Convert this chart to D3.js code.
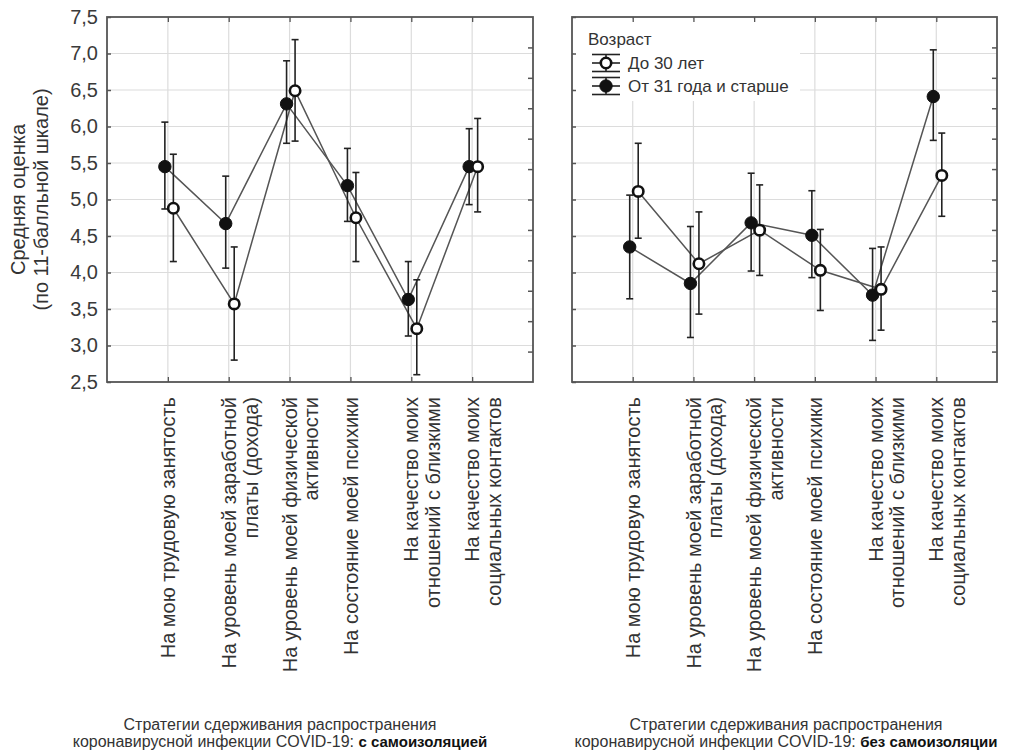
<!DOCTYPE html>
<html>
<head>
<meta charset="utf-8">
<script src="https://cdn.jsdelivr.net/npm/d3@7/dist/d3.min.js"></script>
<style>
  html, body { margin: 0; padding: 0; background: #fff; }
  svg { display: block; font-family: "Liberation Sans", Arial, sans-serif; }
</style>
</head>
<body>
<svg id="chart" width="1009" height="754"></svg>
<script>
// ---------- data ----------
const categories = [
  ["На мою трудовую занятость"],
  ["На уровень моей заработной", "платы (дохода)"],
  ["На уровень моей физической", "активности"],
  ["На состояние моей психики"],
  ["На качество моих", "отношений с близкими"],
  ["На качество моих", "социальных контактов"]
];
const yTicks = [2.5, 3.0, 3.5, 4.0, 4.5, 5.0, 5.5, 6.0, 6.5, 7.0, 7.5];
const seriesNames = ["До 30 лет", "От 31 года и старше"];
const legendTitle = "Возраст";
const yTitle = ["Средняя оценка", "(по 11-балльной шкале)"];

// left panel: с самоизоляцией
const leftYoungMean = [4.88, 3.57, 6.49, 4.75, 3.23, 5.45];
const leftYoungLow  = [4.15, 2.80, 5.80, 4.15, 2.60, 4.83];
const leftYoungHigh = [5.62, 4.35, 7.19, 5.37, 3.90, 6.11];
const leftOldMean   = [5.45, 4.67, 6.31, 5.19, 3.63, 5.45];
const leftOldLow    = [4.87, 4.06, 5.77, 4.70, 3.13, 4.93];
const leftOldHigh   = [6.06, 5.32, 6.90, 5.70, 4.15, 5.97];

// right panel: без самоизоляции
const rightYoungMean = [5.11, 4.12, 4.58, 4.03, 3.77, 5.33];
const rightYoungLow  = [4.47, 3.43, 3.96, 3.48, 3.21, 4.77];
const rightYoungHigh = [5.77, 4.83, 5.20, 4.59, 4.35, 5.91];
const rightOldMean   = [4.35, 3.85, 4.68, 4.51, 3.69, 6.41];
const rightOldLow    = [3.64, 3.11, 4.02, 3.93, 3.07, 5.81];
const rightOldHigh   = [5.06, 4.63, 5.36, 5.12, 4.33, 7.05];

const leftTitle  = ["Стратегии сдерживания распространения", "коронавирусной инфекции COVID-19: ", "с самоизоляцией"];
const rightTitle = ["Стратегии сдерживания распространения", "коронавирусной инфекции COVID-19: ", "без самоизоляции"];

// ---------- drawing ----------
const svg = d3.select("#chart");
const textColor = "#333";
const frameColor = "#555";
const gridColor = "#dcdcdc";
const yTop = 17, yBottom = 382;

function panel(x0, x1, young, old, showYLabels, legend, title, titleCx) {
  const keys = categories.map((c, i) => i);
  const x = d3.scalePoint().domain(keys).range([x0, x1]).padding(1);
  const y = d3.scaleLinear().domain([2.5, 7.5]).range([yBottom, yTop]);
  const y2 = d3.scaleLinear().domain([0, 12]).range([yBottom, yTop]);
  const g = svg.append("g");

  // grid
  g.append("g").selectAll("line").data(yTicks.slice(1, -1)).join("line")
    .attr("x1", x0).attr("x2", x1).attr("y1", d => y(d)).attr("y2", d => y(d))
    .attr("stroke", gridColor).attr("stroke-width", 1.2);
  g.append("g").selectAll("line").data(keys).join("line")
    .attr("x1", d => x(d)).attr("x2", d => x(d)).attr("y1", yTop).attr("y2", yBottom)
    .attr("stroke", gridColor).attr("stroke-width", 1.2);

  // legend background (covers grid)
  if (legend) {
    g.append("rect").attr("x", x0 + 2).attr("y", yTop + 2).attr("width", 226).attr("height", 82).attr("fill", "#fff");
  }

  // axes
  const axL = d3.axisLeft(y).tickValues(yTicks).tickSize(-4).tickPadding(9)
    .tickFormat(d => showYLabels ? d3.format(".1f")(d).replace(".", ",") : "");
  const gL = g.append("g").attr("transform", `translate(${x0},0)`).call(axL);
  gL.select(".domain").remove();
  gL.selectAll("line").attr("stroke", frameColor).attr("stroke-width", 1.5);
  gL.selectAll("text").attr("fill", "#3a3a3a").style("font-size", "20px");

  const axR = d3.axisRight(y2).tickValues(d3.range(1, 12)).tickSize(-5).tickFormat("");
  const gR = g.append("g").attr("transform", `translate(${x1},0)`).call(axR);
  gR.select(".domain").remove();
  gR.selectAll("line").attr("stroke", frameColor).attr("stroke-width", 1.5);

  const axB = d3.axisBottom(x).tickSize(-5).tickFormat("");
  const gB = g.append("g").attr("transform", `translate(0,${yBottom})`).call(axB);
  gB.select(".domain").remove();
  gB.selectAll("line").attr("stroke", frameColor).attr("stroke-width", 1.3);
  const axT = d3.axisTop(x).tickSize(-5).tickFormat("");
  const gT = g.append("g").attr("transform", `translate(0,${yTop})`).call(axT);
  gT.select(".domain").remove();
  gT.selectAll("line").attr("stroke", frameColor).attr("stroke-width", 1.3);

  // frame
  g.append("rect").attr("x", x0).attr("y", yTop).attr("width", x1 - x0).attr("height", yBottom - yTop)
    .attr("fill", "none").attr("stroke", frameColor).attr("stroke-width", 1.8);

  // category labels
  const lab = g.append("g").selectAll("text").data(keys).join("text")
    .attr("transform", d => `translate(${x(d)},397) rotate(-90)`)
    .attr("text-anchor", "end").attr("fill", textColor).style("font-size", "20px");
  lab.selectAll("tspan").data(d => categories[d]).join("tspan")
    .attr("x", 0).attr("dy", (d, i) => i === 0 ? "0.36em" : "1.08em").text(d => d);

  // series
  const series = [
    { m: old[0], lo: old[1], hi: old[2], dx: -3, fill: "#111" },
    { m: young[0], lo: young[1], hi: young[2], dx: 5.5, fill: "#fff" }
  ];
  const line = d3.line();
  series.forEach(s => {
    g.append("path").attr("d", line(keys.map(i => [x(i) + s.dx, y(s.m[i])])))
      .attr("fill", "none").attr("stroke", "#555").attr("stroke-width", 1.5);
  });
  series.forEach(s => {
    const eb = g.append("g").attr("stroke", "#222").attr("stroke-width", 1.6);
    eb.selectAll(".v").data(keys).join("line")
      .attr("x1", i => x(i) + s.dx).attr("x2", i => x(i) + s.dx)
      .attr("y1", i => y(s.lo[i])).attr("y2", i => y(s.hi[i]));
    eb.selectAll(".c1").data(keys).join("line")
      .attr("x1", i => x(i) + s.dx - 3.5).attr("x2", i => x(i) + s.dx + 3.5)
      .attr("y1", i => y(s.lo[i])).attr("y2", i => y(s.lo[i]));
    eb.selectAll(".c2").data(keys).join("line")
      .attr("x1", i => x(i) + s.dx - 3.5).attr("x2", i => x(i) + s.dx + 3.5)
      .attr("y1", i => y(s.hi[i])).attr("y2", i => y(s.hi[i]));
  });
  series.forEach(s => {
    g.append("g").selectAll("circle").data(keys).join("circle")
      .attr("cx", i => x(i) + s.dx).attr("cy", i => y(s.m[i]))
      .attr("r", s.fill === "#fff" ? 5.2 : 6.2)
      .attr("fill", s.fill).attr("stroke", "#111").attr("stroke-width", s.fill === "#fff" ? 2.6 : 1);
  });

  // legend
  if (legend) {
    const lg = g.append("g");
    lg.append("text").attr("x", x0 + 16).attr("y", 45).attr("fill", textColor)
      .style("font-size", "17px").text(legendTitle);
    const items = [{ name: seriesNames[0], fill: "#fff", cy: 63 }, { name: seriesNames[1], fill: "#111", cy: 86 }];
    items.forEach(it => {
      const cx = x0 + 34;
      const h = lg.append("g").attr("stroke", "#222").attr("stroke-width", 1.6);
      [-8.5, 0, 8.5].forEach(o => h.append("line").attr("x1", cx - 14).attr("x2", cx + 14)
        .attr("y1", it.cy + o).attr("y2", it.cy + o));
      h.append("line").attr("x1", cx).attr("x2", cx).attr("y1", it.cy - 8.5).attr("y2", it.cy + 8.5);
      lg.append("circle").attr("cx", cx).attr("cy", it.cy).attr("r", it.fill === "#fff" ? 5.2 : 6.2)
        .attr("fill", it.fill).attr("stroke", "#111").attr("stroke-width", it.fill === "#fff" ? 2.6 : 1);
      lg.append("text").attr("x", cx + 22).attr("y", it.cy).attr("dy", "0.36em").attr("fill", textColor)
        .style("font-size", "17px").text(it.name);
    });
  }

  // bottom title
  const t = g.append("g").attr("fill", textColor).style("font-size", "16px");
  t.append("text").attr("x", titleCx).attr("y", 730).attr("text-anchor", "middle").text(title[0]);
  const t2 = t.append("text").attr("x", titleCx).attr("y", 747).attr("text-anchor", "middle");
  t2.append("tspan").text(title[1]);
  t2.append("tspan").style("font-weight", "bold").style("font-size", "15px").attr("fill", "#111").text(title[2]);
}

panel(107, 533, [leftYoungMean, leftYoungLow, leftYoungHigh], [leftOldMean, leftOldLow, leftOldHigh], true, false, leftTitle, 280);
panel(572, 997, [rightYoungMean, rightYoungLow, rightYoungHigh], [rightOldMean, rightOldLow, rightOldHigh], false, true, rightTitle, 786);

// y-axis title
const yt = svg.append("text").attr("transform", `translate(25,${(yTop + yBottom) / 2}) rotate(-90)`)
  .attr("text-anchor", "middle").attr("fill", textColor).style("font-size", "20px");
yt.selectAll("tspan").data(yTitle).join("tspan").attr("x", 0).attr("dy", (d, i) => i === 0 ? 0 : "1.15em").text(d => d);
</script>
</body>
</html>
